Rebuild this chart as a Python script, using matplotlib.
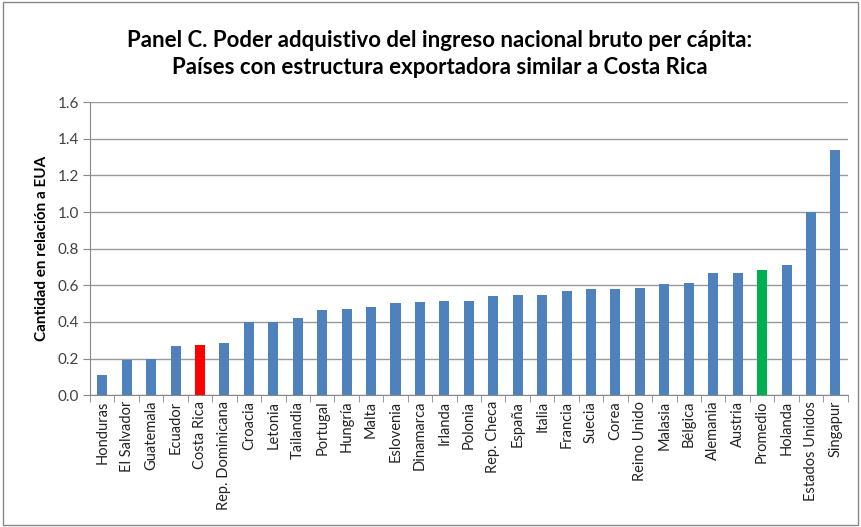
import matplotlib
matplotlib.use("Agg")
import matplotlib.pyplot as plt
from matplotlib.patches import Rectangle
import numpy as np

countries = ["Honduras", "El Salvador", "Guatemala", "Ecuador", "Costa Rica",
             "Rep. Dominicana", "Croacia", "Letonia", "Tailandia", "Portugal",
             "Hungría", "Malta", "Eslovenia", "Dinamarca", "Irlanda", "Polonia",
             "Rep. Checa", "España", "Italia", "Francia", "Suecia", "Corea",
             "Reino Unido", "Malasia", "Bélgica", "Alemania", "Austria",
             "Promedio", "Holanda", "Estados Unidos", "Singapur"]
values = [0.11, 0.19, 0.20, 0.27, 0.275, 0.285, 0.40, 0.40, 0.42, 0.465,
          0.47, 0.48, 0.505, 0.51, 0.515, 0.515, 0.54, 0.55, 0.55, 0.57,
          0.58, 0.58, 0.585, 0.61, 0.615, 0.665, 0.665, 0.685, 0.71, 1.0, 1.34]
yticks = [0.0, 0.2, 0.4, 0.6, 0.8, 1.0, 1.2, 1.4, 1.6]

blue, red, green = "#4F81BD", "#FF0000", "#00B050"
colors = [red if c == "Costa Rica" else green if c == "Promedio" else blue for c in countries]

plt.rcParams['font.family'] = ['Lato', 'DejaVu Sans']
fig = plt.figure(figsize=(8.61, 5.27), dpi=100)
ax = fig.add_axes([0.1045, 0.250, 0.880, 0.556])

x = np.arange(len(countries))
ax.bar(x, values, width=0.41, color=colors, zorder=3)
ax.set_xlim(-0.5, len(countries) - 0.5)
ax.set_ylim(0, 1.6)
ax.set_yticks(yticks)
ax.set_yticklabels([f"{v:.1f}" for v in yticks], fontsize=11, color="#404040")
ax.yaxis.grid(True, color="#999999", linewidth=1.0, zorder=0)
ax.set_axisbelow(True)

ax.set_xticks(x)
ax.set_xticklabels(countries, rotation=90, fontsize=10.5, color="#222222")
ax.tick_params(axis='x', length=0, pad=4)
ax.set_xticks(np.arange(-0.5, len(countries), 1.0), minor=True)
ax.tick_params(axis='x', which='minor', length=5, color="#888888", direction='out')
ax.tick_params(axis='y', length=5, color="#888888", direction='out', pad=3)

for s in ["top", "right"]:
    ax.spines[s].set_visible(False)
ax.spines["left"].set_color("#888888")
ax.spines["bottom"].set_color("#888888")

ax.set_ylabel("Cantidad en relación a EUA", fontsize=11, fontweight="bold", labelpad=6)

fig.text(0.511, 0.924, "Panel C. Poder adquistivo del ingreso nacional bruto per cápita:",
         ha="center", va="center", fontsize=16, fontweight="bold")
fig.text(0.511, 0.871, "Países con estructura exportadora similar a Costa Rica",
         ha="center", va="center", fontsize=16, fontweight="bold")

fig.patches.append(Rectangle((0.003, 0.003), 0.994, 0.994, transform=fig.transFigure,
                             fill=False, edgecolor="#888888", linewidth=1))

fig.savefig("out.png", dpi=100)
